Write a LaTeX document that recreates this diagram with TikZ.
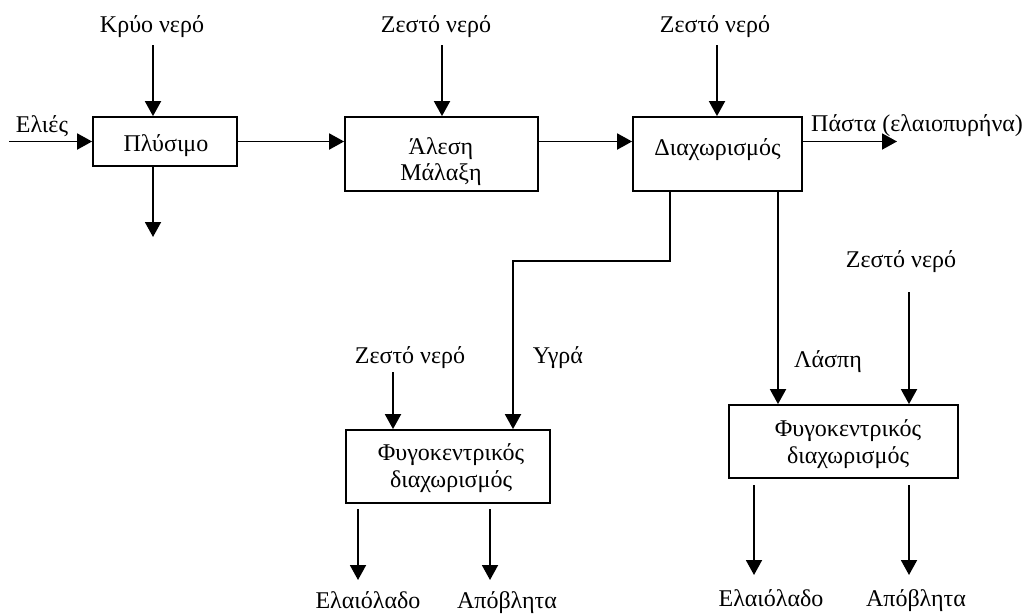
\documentclass[tikz,border=0pt]{standalone}
\usepackage{fontspec}
\setmainfont{Liberation Serif}
\usetikzlibrary{arrows.meta}
\begin{document}
\begin{tikzpicture}[x=1pt,y=-1pt,
  font=\fontsize{24}{26}\selectfont,
  box/.style={draw, line width=1.8pt, inner sep=0pt},
  flow/.style={-{Triangle[length=15pt,width=16pt]}, line width=1.9pt},
  lbl/.style={inner sep=0pt, anchor=base}]
\useasboundingbox (0,0) rectangle (1022,613);

% process boxes
\node[box, minimum width=144, minimum height=49] (plys) at (165,141.5) {};
\node[box, minimum width=193, minimum height=74] (alesi) at (441.5,154) {};
\node[box, minimum width=169, minimum height=74] (diax) at (717.5,154) {};
\node[box, minimum width=204, minimum height=73] (fyg1) at (448,466.5) {};
\node[box, minimum width=229, minimum height=73] (fyg2) at (843.5,441.5) {};

% box captions, one node per printed line
\node[lbl] (plysT) at (166,151.5) {Πλύσιμο};
\node[lbl] (alesiT1) at (441,154) {Άλεση};
\node[lbl] (alesiT2) at (441,180) {Μάλαξη};
\node[lbl] (diaxT) at (717.5,155) {Διαχωρισμός};
\node[lbl] (fyg1T1) at (451,460) {Φυγοκεντρικός};
\node[lbl] (fyg1T2) at (451,487) {διαχωρισμός};
\node[lbl] (fyg2T1) at (848,436.5) {Φυγοκεντρικός};
\node[lbl] (fyg2T2) at (848,463) {διαχωρισμός};

% stream labels
\node[lbl] (elies) at (42,132) {Ελιές};
\node[lbl] (kryo) at (152,32) {Κρύο νερό};
\node[lbl] (zn1) at (436,32) {Ζεστό νερό};
\node[lbl] (zn2) at (715,32) {Ζεστό νερό};
\node[lbl, anchor=base west] (pasta) at (811,131) {Πάστα (ελαιοπυρήνα)};
\node[lbl] (zn3) at (410,363) {Ζεστό νερό};
\node[lbl] (ygra) at (558,363) {Υγρά};
\node[lbl] (zn4) at (901,267) {Ζεστό νερό};
\node[lbl] (laspi) at (828,367) {Λάσπη};
\node[lbl] (oil1) at (368,608) {Ελαιόλαδο};
\node[lbl] (waste1) at (507,608) {Απόβλητα};
\node[lbl] (oil2) at (771,606) {Ελαιόλαδο};
\node[lbl] (waste2) at (916,606) {Απόβλητα};

% free ends of the streams
\coordinate (eliesIn) at (9,141.5);
\coordinate (kryoIn) at (153,45);
\coordinate (plysOut) at (153,237);
\coordinate (zn1In) at (442,45);
\coordinate (zn2In) at (717,45);
\coordinate (pastaOut) at (897,141.5);
\coordinate (ygraTop) at (670,191);
\coordinate (ygraLeft) at (513,261);
\coordinate (laspiTop) at (778,191);
\coordinate (zn3In) at (393,372);
\coordinate (zn4In) at (909,292);
\coordinate (f1a) at (358,509);
\coordinate (f1b) at (490,509);
\coordinate (f2a) at (754,485);
\coordinate (f2b) at (909,485);

% main line
\draw[flow] (eliesIn) -- (plys.west);
\draw[flow] (kryoIn) -- (kryoIn |- plys.north);
\draw[flow] (plys.south -| plysOut) -- (plysOut);
\draw[flow] (plys.east) -- (plys.east -| alesi.west);
\draw[flow] (zn1In) -- (zn1In |- alesi.north);
\draw[flow] (alesi.east |- plys.east) -- (diax.west |- plys.east);
\draw[flow] (zn2In) -- (zn2In |- diax.north);
\draw[flow] (diax.east |- plys.east) -- (pastaOut);

% liquid and sludge branches
\draw[flow] (ygraTop) |- (ygraLeft) -- (ygraLeft |- fyg1.north);
\draw[flow] (laspiTop) -- (laspiTop |- fyg2.north);
\draw[flow] (zn3In) -- (zn3In |- fyg1.north);
\draw[flow] (zn4In) -- (zn4In |- fyg2.north);

% centrifuge outputs
\draw[flow] (f1a) -- (f1a |- 0,580);
\draw[flow] (f1b) -- (f1b |- 0,580);
\draw[flow] (f2a) -- (f2a |- 0,575);
\draw[flow] (f2b) -- (f2b |- 0,575);
\end{tikzpicture}
\end{document}
